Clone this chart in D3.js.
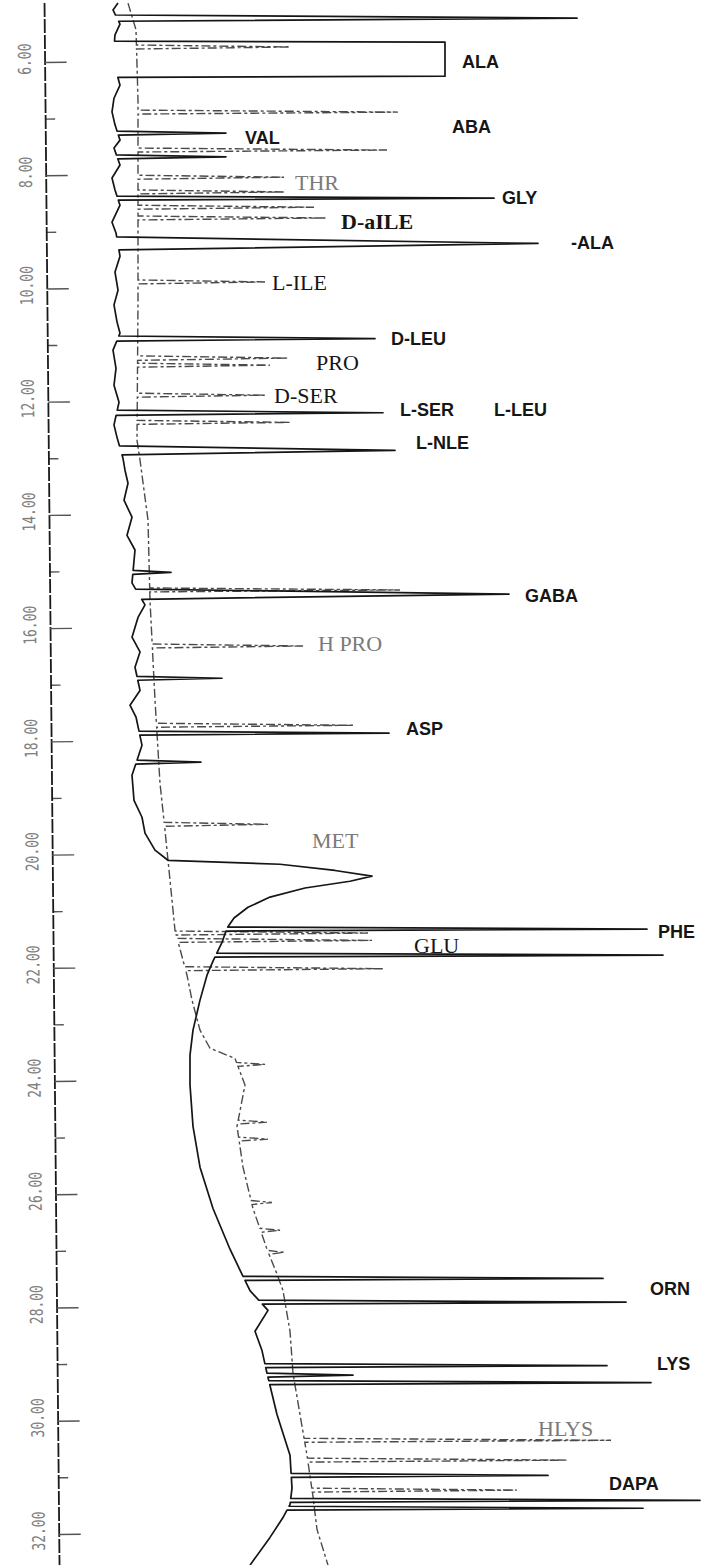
<!DOCTYPE html>
<html>
<head>
<meta charset="utf-8">
<script src="https://cdn.jsdelivr.net/npm/d3@7"></script>
<style>
  body { margin: 0; background: #fff; }
  svg { display: block; }
</style>
</head>
<body>
<div id="cromatograma"></div>
<script>
// DATOS.
// Tiempos de retencion (min) del eje.
const ticksMayores = d3.range(6, 33, 2);
const ticksMenores = d3.range(7, 32, 2);

// Traza A (linea continua): linea base [tiempo, senal].
const trazaA = [
  [4.96,1.8],[5.08,1.3],[5.33,2.0],[5.52,1.5],[5.96,1.3],[6.41,2.0],[6.64,1.4],[6.88,1.2],
  [7.11,1.5],[7.38,2.0],[7.52,1.4],[7.82,2.0],[8.05,1.2],[8.26,1.5],[8.53,2.0],[8.83,1.2],
  [9.02,1.6],[9.43,2.0],[9.71,1.5],[10.03,1.8],[10.29,1.4],[10.59,1.7],[10.79,2.0],[11.09,1.3],
  [11.41,1.6],[11.71,1.4],[12.01,1.9],[12.41,1.4],[12.63,1.7],[13.00,2.3],[13.21,2.5],[13.44,2.8],
  [13.74,2.4],[14.04,3.2],[14.36,2.7],[14.62,3.5],[15.20,3.2],[15.59,4.5],[15.81,3.8],[16.16,3.2],
  [16.42,4.0],[16.69,3.5],[17.10,4.0],[17.36,3.0],[17.57,3.6],[18.07,4.2],[18.60,3.2],[19.04,3.4],
  [19.34,4.2],[19.62,4.5],[19.92,5.5],[20.10,6.8],[20.17,18.0],[20.28,23.5],[20.38,27.2],[20.47,25.0],
  [20.59,20.5],[20.75,17.0],[20.93,14.8],[21.12,13.4],[21.30,12.7],[21.55,12.2],[21.88,11.3],[22.13,10.7],
  [22.57,10.0],[23.10,9.3],[23.54,9.0],[24.07,9.0],[24.80,9.3],[25.52,10.0],[26.25,11.3],[26.97,13.0],
  [27.34,14.0],[27.70,15.0],[28.05,16.8],[28.42,15.5],[28.76,16.2],[29.16,16.7],[29.89,17.7],[30.61,19.0],
  [31.19,19.2],[31.48,19.0],[31.71,18.3],[32.06,17.0],[32.55,15.0]
];
// Picos de la traza A: [inicio, fin, altura].
const picosA = [
  [5.17,5.28,47.7],[5.63,6.27,34.5],[7.22,7.29,12.6],[7.64,7.71,12.6],[8.37,8.44,39.4],
  [9.09,9.32,43.8],[10.84,10.93,27.5],[12.15,12.24,28.3],[12.78,12.94,29.5],[14.98,15.05,7.1],
  [15.31,15.49,40.9],[16.85,16.92,12.2],[17.82,17.89,28.9],[18.33,18.40,10.1],[21.28,21.35,54.7],
  [21.74,21.81,56.3],[27.45,27.52,50.3],[27.87,27.94,52.6],[28.99,29.06,50.7],[29.16,29.23,25.3],
  [29.29,29.36,55.1],[30.93,31.00,44.8],[31.37,31.44,60.0],[31.51,31.58,54.3]
];

// Traza B (linea discontinua).
const trazaB = [
  [4.96,2.8],[5.43,3.6],[6.67,3.8],[10.20,3.8],[12.68,3.7],[13.03,4.0],[14.09,4.8],[15.51,5.0],
  [17.27,5.5],[18.74,6.0],[19.57,6.5],[20.45,7.0],[21.34,7.5],[22.13,8.7],[22.57,9.2],[23.10,10.0],
  [23.42,11.0],[23.60,13.5],[24.07,14.5],[24.80,13.7],[25.52,14.3],[26.25,15.3],[26.97,16.7],[27.41,17.7],
  [27.70,18.3],[28.42,19.0],[29.16,19.3],[29.89,20.0],[30.61,20.7],[31.34,21.3],[31.92,21.7],[32.55,22.8]
];
const picosB = [
  [5.70,5.77,19.0],[6.85,6.92,29.8],[7.52,7.59,28.7],[8.00,8.07,18.4],[8.26,8.33,18.4],
  [8.53,8.60,21.4],[8.72,8.79,22.6],[9.85,9.92,16.5],[11.19,11.27,18.8],[11.32,11.39,17.0],
  [11.85,11.92,16.5],[12.33,12.40,19.1],[15.29,15.36,30.0],[16.28,16.35,20.3],[17.68,17.75,25.3],
  [19.43,19.50,16.8],[21.35,21.42,26.8],[21.48,21.55,27.2],[21.98,22.05,28.3],[23.67,23.74,16.5],
  [24.69,24.76,16.7],[24.99,25.06,16.8],[26.11,26.18,17.2],[26.60,26.67,18.0],[26.99,27.06,18.4],
  [30.31,30.38,51.1],[30.66,30.73,46.7],[31.19,31.26,41.7]
];

// Etiquetas de los aminoacidos.
const nombres = ["ALA","ABA","VAL","THR","GLY","D-aILE","-ALA","L-ILE","D-LEU","PRO","D-SER",
  "L-SER","L-LEU","L-NLE","GABA","H PRO","ASP","MET","PHE","GLU","ORN","LYS","HLYS","DAPA"];
const tiemposEtiqueta = [6.00,7.15,7.33,8.12,8.40,8.81,9.20,9.89,10.88,11.30,11.88,
  12.15,12.15,12.73,15.42,16.27,17.77,19.75,21.37,21.60,27.66,28.99,30.13,31.11];
const senalEtiqueta = [36.2,35.2,14.5,19.5,40.2,24.1,47.1,17.2,29.1,21.6,17.4,
  30.0,39.4,31.6,42.5,21.8,30.6,21.2,55.8,31.4,55.0,55.7,43.8,50.9];
const nombresSerif = ["THR","D-aILE","L-ILE","PRO","D-SER","H PRO","MET","GLU","HLYS"];
const nombresGris = ["THR","H PRO","MET","HLYS"];

// ESCALAS.
const ancho = 704, alto = 1565;
const y = d3.scaleLinear().domain([6, 32]).range([62, 1534]);
const yIni = y(4.95), yFin = y(32.55);
y.domain([4.95, 32.55]).range([yIni, yFin]);
const x = d3.scaleLinear().domain([0, 60]).range([100, 700]);

//--------------------------------------------------
function crearSvg(){
  return d3.select("#cromatograma")
    .append("svg")
    .attr("width", ancho)
    .attr("height", alto);
}

// Junta linea base y picos en una sola lista de puntos.
// Picos estrechos: triangulo; picos anchos: cima plana.
function armarTraza(base, picos){
  const nivel = d3.scaleLinear()
    .domain(base.map(function(d){ return d[0]; }))
    .range(base.map(function(d){ return d[1]; }));
  const puntos = base.filter(function(k){
    return !picos.some(function(p){ return k[0] > p[0] && k[0] < p[1]; });
  });
  picos.forEach(function(p){
    const w = p[1] - p[0];
    const d = w > 0.3 ? 0.02 : w / 2;
    puntos.push([p[0], nivel(p[0])], [p[0] + d, p[2]], [p[1] - d, p[2]], [p[1], nivel(p[1])]);
  });
  return puntos.sort(function(a, b){ return a[0] - b[0]; });
}

function pintarEje(svg){
  const g = svg.append("g")
    .attr("transform", "translate(44,0) rotate(-0.55)");

  g.append("g")
    .call(d3.axisRight(y).tickValues(ticksMenores).tickSize(10).tickSizeOuter(0).tickFormat(""))
    .call(function(s){ s.select(".domain").remove(); });

  g.append("g")
    .call(d3.axisRight(y).tickValues(ticksMayores).tickSize(22).tickSizeOuter(0).tickFormat(""));

  g.selectAll(".domain")
    .attr("stroke", "#1a1a1a")
    .attr("stroke-width", 1.8)
    .attr("stroke-dasharray", "14,2");
  g.selectAll(".tick line")
    .attr("stroke", "#555")
    .attr("stroke-width", 1.4);

  g.selectAll("text.rotulo")
    .data(ticksMayores).enter()
    .append("text")
    .attr("class", "rotulo")
    .attr("transform", function(d){
      return "translate(-20," + (y(d) - 3) + ") rotate(-90) scale(1,1.35)";
    })
    .attr("text-anchor", "middle")
    .attr("dy", "0.35em")
    .attr("font-family", "DejaVu Sans Mono")
    .attr("font-size", "13px")
    .attr("fill", "#808080")
    .text(d3.format(".2f"));
}

function pintarTrazas(svg){
  const linea = d3.line()
    .x(function(d){ return x(d[1]); })
    .y(function(d){ return y(d[0]); });

  svg.append("path")
    .datum(armarTraza(trazaB, picosB))
    .attr("d", linea)
    .attr("fill", "none")
    .attr("stroke", "#4a4a4a")
    .attr("stroke-width", 1.4)
    .attr("stroke-dasharray", "9,3,3,3");

  svg.append("path")
    .datum(armarTraza(trazaA, picosA))
    .attr("d", linea)
    .attr("fill", "none")
    .attr("stroke", "#151515")
    .attr("stroke-width", 1.7)
    .attr("stroke-linejoin", "round");
}

function pintarEtiquetas(svg){
  svg.selectAll("text.amino")
    .data(nombres).enter()
    .append("text")
    .attr("class", "amino")
    .attr("x", function(d, i){ return x(senalEtiqueta[i]); })
    .attr("y", function(d, i){ return y(tiemposEtiqueta[i]); })
    .attr("dy", "0.35em")
    .attr("font-family", function(d){
      return nombresSerif.indexOf(d) >= 0 ? "Liberation Serif" : "Liberation Sans";
    })
    .attr("font-size", function(d){
      return nombresSerif.indexOf(d) >= 0 ? "22px" : "18px";
    })
    .attr("font-weight", function(d){
      return (nombresSerif.indexOf(d) >= 0 && d !== "D-aILE") ? "normal" : "bold";
    })
    .attr("fill", function(d){
      return nombresGris.indexOf(d) >= 0 ? "#7a7a7a" : "#161616";
    })
    .text(function(d){ return d; });
}

//##################################################
const svg = crearSvg();
pintarEje(svg);
pintarTrazas(svg);
pintarEtiquetas(svg);
</script>
</body>
</html>
